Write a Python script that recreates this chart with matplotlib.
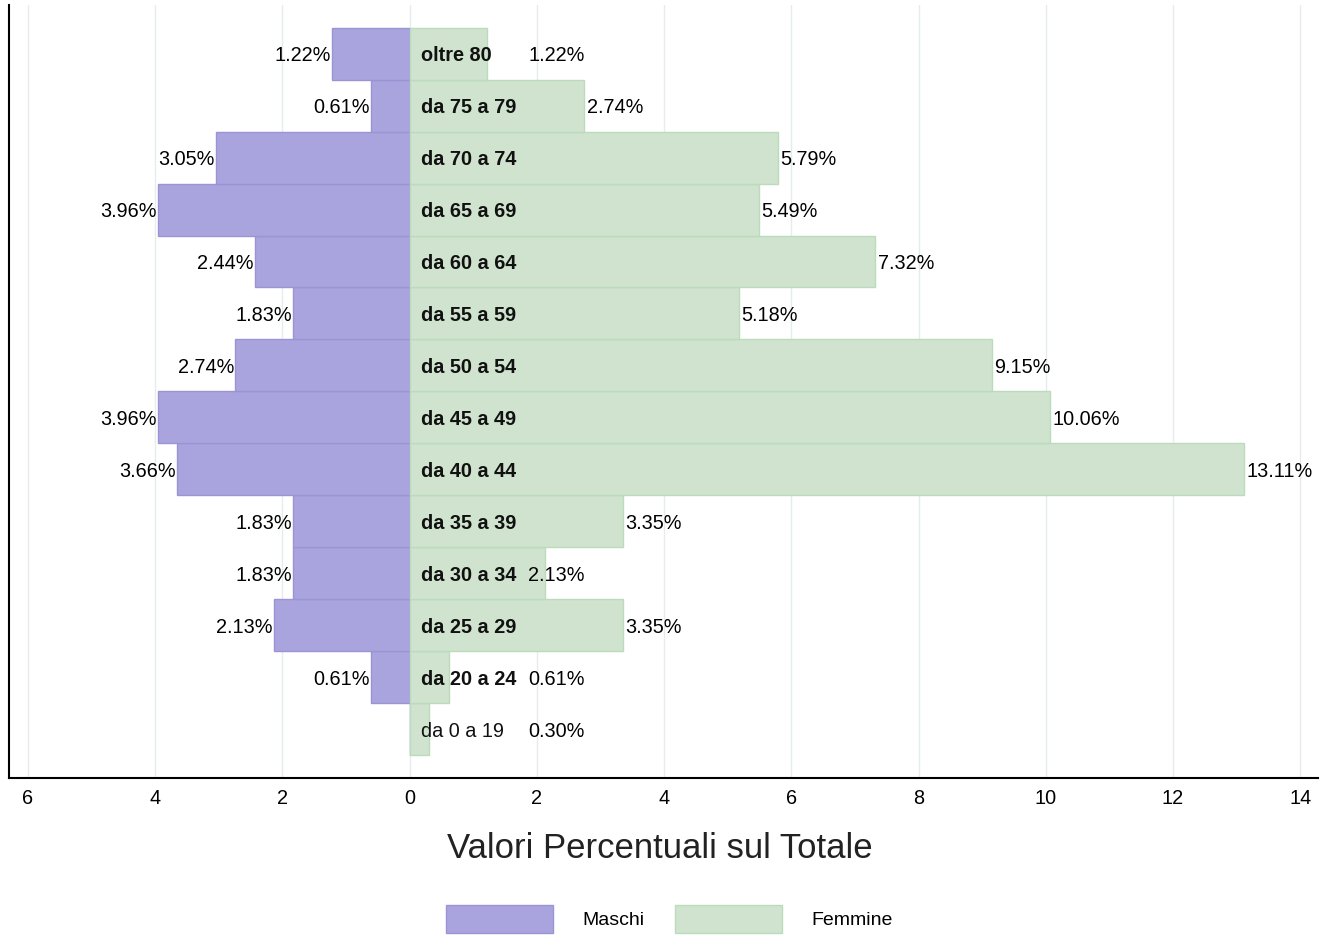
import numpy as np
import matplotlib.pyplot as plt
from matplotlib.patches import Patch

plt.rcParams['font.family'] = ['Liberation Sans', 'DejaVu Sans']

# age classes from youngest to oldest
classi = ['da 0 a 19', 'da 20 a 24', 'da 25 a 29', 'da 30 a 34', 'da 35 a 39',
          'da 40 a 44', 'da 45 a 49', 'da 50 a 54', 'da 55 a 59', 'da 60 a 64',
          'da 65 a 69', 'da 70 a 74', 'da 75 a 79', 'oltre 80']
maschi = [0.00, 0.61, 2.13, 1.83, 1.83, 3.66, 3.96, 2.74, 1.83, 2.44, 3.96, 3.05, 0.61, 1.22]
femmine = [0.30, 0.61, 3.35, 2.13, 3.35, 13.11, 10.06, 9.15, 5.18, 7.32, 5.49, 5.79, 2.74, 1.22]
ticks = [-6, -4, -2, 0, 2, 4, 6, 8, 10, 12, 14]

col_m, edge_m = '#a9a4dd', '#9a93d4'
col_f, edge_f = '#cfe3ce', '#bcdabc'

fig = plt.figure(figsize=(13.2, 9.36), dpi=100)
ax = fig.add_axes([0.0068, 0.169, 0.9917, 0.8258])

y = np.arange(len(classi))
m = -np.array(maschi)
f = np.array(femmine)

ax.barh(y, m, height=1.0, color=col_m, edgecolor=edge_m, linewidth=1, zorder=2)
ax.barh(y, f, height=1.0, color=col_f, edgecolor=edge_f, linewidth=1, zorder=2)

fs = 14.3
dy = -0.04
for i, (vm, vf, lab) in enumerate(zip(maschi, femmine, classi)):
    if vm > 0:
        ax.text(-vm - 0.02, i + dy, f'{vm:.2f}%', ha='right', va='center', fontsize=fs, zorder=3)
    xf = vf + 0.04 if vf > 2.5 else 1.86
    ax.text(xf, i + dy, f'{vf:.2f}%', ha='left', va='center', fontsize=fs, zorder=3)
    bold = 'normal' if lab == 'da 0 a 19' else 'bold'
    ax.text(0.18, i + dy, lab, ha='left', va='center', fontsize=fs, fontweight=bold,
            color='#111111', zorder=3)

ax.set_xlim(-6.3, 14.28)
ax.set_ylim(-0.94, 13.94)
ax.set_xticks(ticks)
ax.set_xticklabels([str(abs(t)) for t in ticks], fontsize=14.3)
ax.set_yticks([])
ax.tick_params(axis='x', length=0, pad=8)
ax.grid(axis='x', color='#e6ecee', linewidth=1, zorder=0)
ax.set_axisbelow(True)
for s in ['top', 'right']:
    ax.spines[s].set_visible(False)
ax.spines['left'].set_linewidth(1.5)
ax.spines['bottom'].set_linewidth(1.5)

fig.text(0.5, 0.093, 'Valori Percentuali sul Totale', ha='center', va='center',
         fontsize=25, color='#222222')

handles = [Patch(facecolor=col_m, edgecolor=edge_m, label='Maschi'),
           Patch(facecolor=col_f, edgecolor=edge_f, label='Femmine')]
fig.legend(handles=handles, loc='center', bbox_to_anchor=(0.507, 0.018), ncol=2,
           frameon=False, fontsize=14, handlelength=5.5, handleheight=1.85,
           handletextpad=1.5, columnspacing=1.6)

fig.savefig('out.png', dpi=100)
